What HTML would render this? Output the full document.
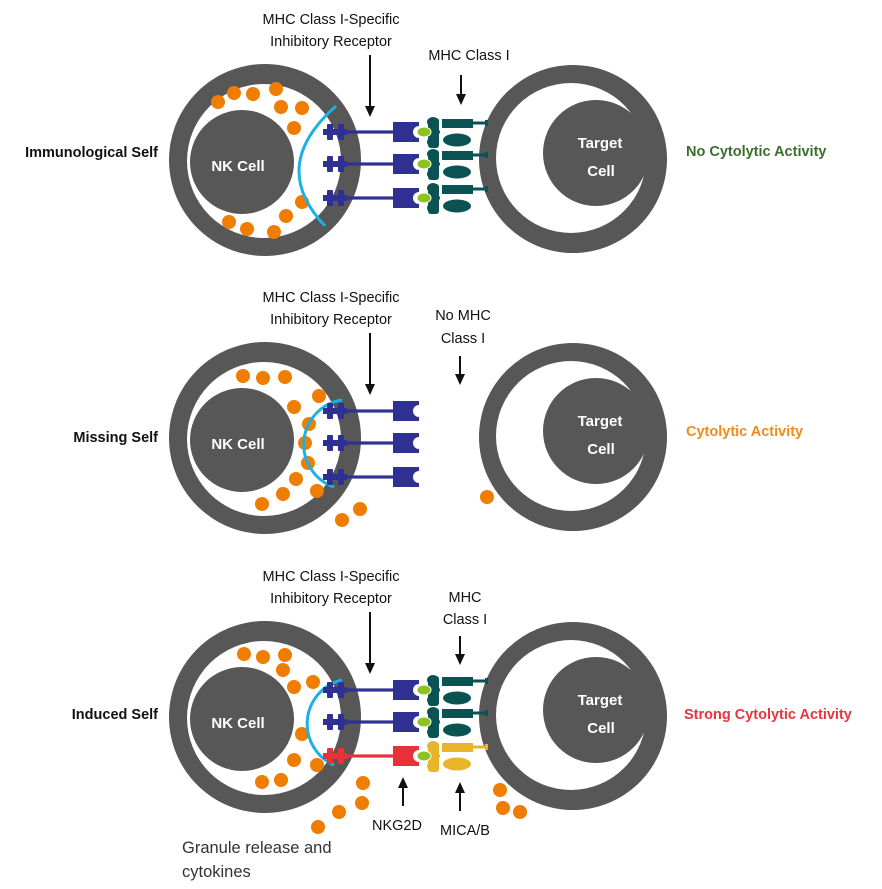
<!DOCTYPE html>
<html><head><meta charset="utf-8"><style>
html,body{margin:0;padding:0;background:#fff;}
svg{display:block;font-family:"Liberation Sans",Arial,sans-serif;}
</style></head><body>
<svg width="882" height="889" viewBox="0 0 882 889" xmlns="http://www.w3.org/2000/svg">
<defs>
<g id="rec">
<rect x="347" y="-1.6" width="47" height="3.2" fill="#2e3192"/>
<rect x="323" y="-3" width="24" height="6" fill="#2e3192"/>
<rect x="327" y="-8" width="6" height="16" rx="1" fill="#2e3192"/>
<rect x="338" y="-8" width="6" height="16" rx="1" fill="#2e3192"/>
<path d="M393,-10 H419 V-6 A6,6 0 0 0 419,6 V10 H393 Z" fill="#2e3192"/>
</g>
<g id="recR">
<rect x="347" y="-1.6" width="47" height="3.2" fill="#e8323a"/>
<rect x="323" y="-3" width="24" height="6" fill="#e8323a"/>
<rect x="327" y="-8" width="6" height="16" rx="1" fill="#e8323a"/>
<rect x="338" y="-8" width="6" height="16" rx="1" fill="#e8323a"/>
<path d="M393,-10 H419 V-6 A6,6 0 0 0 419,6 V10 H393 Z" fill="#e8323a"/>
</g>
<g id="grn"><ellipse cx="424" cy="0" rx="7" ry="5" fill="#8dc21f" stroke="#fff" stroke-width="1"/></g>
<g id="mhc" fill="#0b5352">
<rect x="472" y="-10.5" width="16" height="3" />
<rect x="485" y="-12" width="3" height="6"/>
<ellipse cx="433" cy="-10" rx="6" ry="5"/>
<ellipse cx="433" cy="0" rx="7" ry="4"/>
<ellipse cx="433" cy="10" rx="6" ry="5"/>
<rect x="428" y="-14" width="11" height="30" rx="3"/>
<rect x="442" y="-13" width="31" height="9"/>
<ellipse cx="457" cy="8" rx="14" ry="6.5"/>
</g>
<g id="mica" fill="#e8b52a">
<rect x="472" y="-10.5" width="16" height="3" />
<rect x="485" y="-12" width="3" height="6"/>
<ellipse cx="433" cy="-10" rx="6" ry="5"/>
<ellipse cx="433" cy="0" rx="7" ry="4"/>
<ellipse cx="433" cy="10" rx="6" ry="5"/>
<rect x="428" y="-14" width="11" height="30" rx="3"/>
<rect x="442" y="-13" width="31" height="9"/>
<ellipse cx="457" cy="8" rx="14" ry="6.5"/>
</g>
<g id="cells">
<circle cx="265" cy="160" r="96" fill="#575757"/>
<circle cx="264" cy="161" r="77" fill="#fff"/>
<circle cx="242" cy="162" r="52" fill="#575757"/>
<text x="238" y="171" font-size="15" font-weight="bold" fill="#fff" text-anchor="middle">NK Cell</text>
<circle cx="573" cy="159" r="94" fill="#575757"/>
<circle cx="571" cy="158" r="75" fill="#fff"/>
<circle cx="596" cy="153" r="53" fill="#575757"/>
<text x="600" y="148" font-size="15" font-weight="bold" fill="#fff" text-anchor="middle">Target</text>
<text x="601" y="176" font-size="15" font-weight="bold" fill="#fff" text-anchor="middle">Cell</text>
<text x="331" y="24" font-size="14.5" fill="#111" text-anchor="middle">MHC Class I-Specific</text>
<text x="331" y="46" font-size="14.5" fill="#111" text-anchor="middle">Inhibitory Receptor</text>
<line x1="370" y1="55" x2="370" y2="108" stroke="#111" stroke-width="2"/>
<path d="M365,106 L375,106 L370,117 Z" fill="#111"/>
</g>
</defs>

<!-- Panel 1 -->
<use href="#cells"/>
<g fill="#ef7d00">
<circle cx="218" cy="102" r="7"/><circle cx="234" cy="93" r="7"/><circle cx="253" cy="94" r="7"/><circle cx="276" cy="89" r="7"/><circle cx="281" cy="107" r="7"/><circle cx="302" cy="108" r="7"/><circle cx="294" cy="128" r="7"/><circle cx="302" cy="202" r="7"/><circle cx="286" cy="216" r="7"/><circle cx="229" cy="222" r="7"/><circle cx="247" cy="229" r="7"/><circle cx="274" cy="232" r="7"/>
</g>
<path d="M336,106 Q268,166 325,226" fill="none" stroke="#1cb1e6" stroke-width="3"/>
<g transform="translate(0,132)"><use href="#mhc"/><use href="#rec"/><use href="#grn"/></g>
<g transform="translate(0,164)"><use href="#mhc"/><use href="#rec"/><use href="#grn"/></g>
<g transform="translate(0,198)"><use href="#mhc"/><use href="#rec"/><use href="#grn"/></g>
<line x1="441" y1="115" x2="441" y2="214" stroke="#fff" stroke-width="1.5"/>
<text x="469" y="60" font-size="14.5" fill="#111" text-anchor="middle">MHC Class I</text>
<line x1="461" y1="75" x2="461" y2="96" stroke="#111" stroke-width="2"/>
<path d="M456,94 L466,94 L461,105 Z" fill="#111"/>
<text x="158" y="157" font-size="14.5" font-weight="bold" fill="#111" text-anchor="end">Immunological Self</text>
<text x="686" y="156" font-size="14.5" font-weight="bold" fill="#3a6e2d">No Cytolytic Activity</text>

<!-- Panel 2 -->
<g transform="translate(0,278)"><use href="#cells"/></g>
<g fill="#ef7d00">
<circle cx="243" cy="376" r="7"/><circle cx="263" cy="378" r="7"/><circle cx="285" cy="377" r="7"/><circle cx="319" cy="396" r="7"/><circle cx="294" cy="407" r="7"/><circle cx="309" cy="424" r="7"/><circle cx="305" cy="443" r="7"/><circle cx="308" cy="463" r="7"/><circle cx="296" cy="479" r="7"/><circle cx="317" cy="491" r="7"/><circle cx="283" cy="494" r="7"/><circle cx="262" cy="504" r="7"/><circle cx="360" cy="509" r="7"/><circle cx="342" cy="520" r="7"/><circle cx="487" cy="497" r="7"/>
</g>
<path d="M342,400 A45,45 0 0 0 334,487" fill="none" stroke="#1cb1e6" stroke-width="3"/>
<g transform="translate(0,411)"><use href="#rec"/></g>
<g transform="translate(0,443)"><use href="#rec"/></g>
<g transform="translate(0,477)"><use href="#rec"/></g>
<text x="463" y="320" font-size="14.5" fill="#111" text-anchor="middle">No MHC</text>
<text x="463" y="343" font-size="14.5" fill="#111" text-anchor="middle">Class I</text>
<line x1="460" y1="356" x2="460" y2="376" stroke="#111" stroke-width="2"/>
<path d="M455,374 L465,374 L460,385 Z" fill="#111"/>
<text x="158" y="442" font-size="14.5" font-weight="bold" fill="#111" text-anchor="end">Missing Self</text>
<text x="686" y="436" font-size="14.5" font-weight="bold" fill="#f08a1c">Cytolytic Activity</text>

<!-- Panel 3 -->
<g transform="translate(0,557)"><use href="#cells"/></g>
<g fill="#ef7d00">
<circle cx="244" cy="654" r="7"/><circle cx="263" cy="657" r="7"/><circle cx="285" cy="655" r="7"/><circle cx="283" cy="670" r="7"/><circle cx="294" cy="687" r="7"/><circle cx="313" cy="682" r="7"/><circle cx="302" cy="734" r="7"/><circle cx="294" cy="760" r="7"/><circle cx="317" cy="765" r="7"/><circle cx="262" cy="782" r="7"/><circle cx="281" cy="780" r="7"/><circle cx="363" cy="783" r="7"/><circle cx="362" cy="803" r="7"/><circle cx="339" cy="812" r="7"/><circle cx="318" cy="827" r="7"/><circle cx="500" cy="790" r="7"/><circle cx="503" cy="808" r="7"/><circle cx="520" cy="812" r="7"/>
</g>
<path d="M342,680 A45,45 0 0 0 334,765" fill="none" stroke="#1cb1e6" stroke-width="3"/>
<g transform="translate(0,690)"><use href="#mhc"/><use href="#rec"/><use href="#grn"/></g>
<g transform="translate(0,722)"><use href="#mhc"/><use href="#rec"/><use href="#grn"/></g>
<g transform="translate(0,756)"><use href="#mica"/><use href="#recR"/><use href="#grn"/></g>
<line x1="441" y1="673" x2="441" y2="772" stroke="#fff" stroke-width="1.5"/>
<text x="465" y="602" font-size="14.5" fill="#111" text-anchor="middle">MHC</text>
<text x="465" y="624" font-size="14.5" fill="#111" text-anchor="middle">Class I</text>
<line x1="460" y1="636" x2="460" y2="656" stroke="#111" stroke-width="2"/>
<path d="M455,654 L465,654 L460,665 Z" fill="#111"/>
<line x1="403" y1="806" x2="403" y2="786" stroke="#111" stroke-width="2"/>
<path d="M398,788 L408,788 L403,777 Z" fill="#111"/>
<line x1="460" y1="811" x2="460" y2="791" stroke="#111" stroke-width="2"/>
<path d="M455,793 L465,793 L460,782 Z" fill="#111"/>
<text x="397" y="830" font-size="14.5" fill="#111" text-anchor="middle">NKG2D</text>
<text x="465" y="835" font-size="14.5" fill="#111" text-anchor="middle">MICA/B</text>
<text x="182" y="853" font-size="16.5" fill="#333">Granule release and</text>
<text x="182" y="877" font-size="16.5" fill="#333">cytokines</text>
<text x="158" y="719" font-size="14.5" font-weight="bold" fill="#111" text-anchor="end">Induced Self</text>
<text x="684" y="719" font-size="14.5" font-weight="bold" fill="#e8343c">Strong Cytolytic Activity</text>
</svg>
</body></html>
